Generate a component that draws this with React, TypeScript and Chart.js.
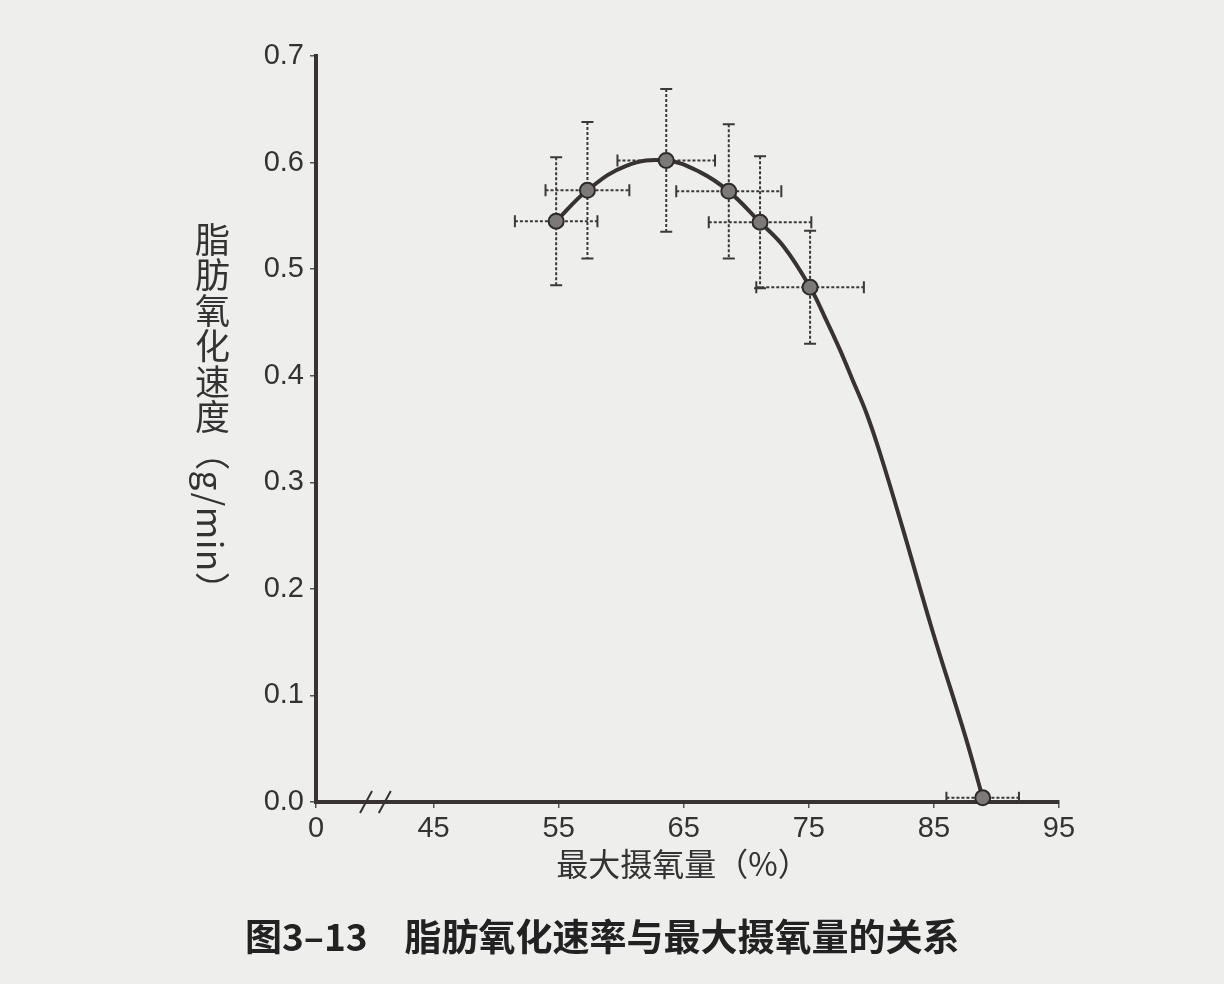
import React, { useEffect, useRef } from 'react';
import { Chart, registerables } from 'chart.js';

Chart.register(...registerables);

const vo2Mean = [54.8, 57.3, 63.6, 68.6, 71.1, 75.1, 88.9];
const vo2Err = [3.3, 3.35, 3.9, 4.2, 4.1, 4.3, 2.9];
const fatOxMean = [0.545, 0.574, 0.602, 0.573, 0.544, 0.483, 0.004];
const fatOxErr = [0.06, 0.064, 0.067, 0.063, 0.062, 0.053, 0];

// fitted curve
const curveX = [54.8, 57.3, 60.4, 63.6, 66.3, 68.6, 71.1, 73.0, 75.1, 76.4, 77.5, 78.5, 79.6, 80.7, 82.5, 84.9, 87.5, 88.9];
const curveY = [0.545, 0.574, 0.597, 0.602, 0.591, 0.573, 0.544, 0.521, 0.483, 0.452, 0.424, 0.396, 0.365, 0.327, 0.257, 0.16, 0.062, 0.004];

// broken x axis: the first tick stands for 0
const xAxisStart = 35.6;
const xTickValues = [xAxisStart, 45, 55, 65, 75, 85, 95];
const xTickLabels = ['0', '45', '55', '65', '75', '85', '95'];
const xBreakMarks = [39.6, 41.1];

const INK = '#383232';

const errorBars = {
  id: 'errorBars',
  beforeDatasetsDraw(chart: any) {
    const { ctx, scales } = chart;
    const { x, y } = scales;
    ctx.save();
    ctx.strokeStyle = '#3c3838';
    ctx.lineWidth = 2;
    vo2Mean.forEach((m, i) => {
      const px = x.getPixelForValue(m);
      const py = y.getPixelForValue(fatOxMean[i]);
      const xl = x.getPixelForValue(m - vo2Err[i]);
      const xr = x.getPixelForValue(m + vo2Err[i]);
      const yt = y.getPixelForValue(fatOxMean[i] + fatOxErr[i]);
      const yb = y.getPixelForValue(fatOxMean[i] - fatOxErr[i]);
      ctx.setLineDash([3, 2]);
      ctx.beginPath();
      ctx.moveTo(xl, py);
      ctx.lineTo(xr, py);
      if (fatOxErr[i] > 0) {
        ctx.moveTo(px, yt);
        ctx.lineTo(px, yb);
      }
      ctx.stroke();
      ctx.setLineDash([]);
      ctx.beginPath();
      ctx.moveTo(xl, py - 6);
      ctx.lineTo(xl, py + 6);
      ctx.moveTo(xr, py - 6);
      ctx.lineTo(xr, py + 6);
      if (fatOxErr[i] > 0) {
        ctx.moveTo(px - 6, yt);
        ctx.lineTo(px + 6, yt);
        ctx.moveTo(px - 6, yb);
        ctx.lineTo(px + 6, yb);
      }
      ctx.stroke();
    });
    ctx.restore();
  },
};

const axisBreak = {
  id: 'axisBreak',
  afterDraw(chart: any) {
    const { ctx, scales } = chart;
    const by = scales.y.getPixelForValue(0);
    ctx.save();
    ctx.strokeStyle = INK;
    ctx.lineWidth = 2;
    xBreakMarks.forEach((v) => {
      const bx = scales.x.getPixelForValue(v);
      ctx.beginPath();
      ctx.moveTo(bx - 6, by + 11);
      ctx.lineTo(bx + 6, by - 11);
      ctx.stroke();
    });
    ctx.restore();
  },
};

const FatOxChart = () => {
  const canvasRef = useRef<HTMLCanvasElement>(null);
  const chartRef = useRef<Chart | null>(null);

  useEffect(() => {
    document.body.style.margin = '0';
    document.body.style.overflow = 'hidden';
    if (!canvasRef.current) return;
    if (chartRef.current) chartRef.current.destroy();

    const tickFont = { family: "'Liberation Sans', Arial, sans-serif", size: 29 };

    chartRef.current = new Chart(canvasRef.current, {
      type: 'scatter',
      data: {
        datasets: [
          {
            data: vo2Mean.map((v, i) => ({ x: v, y: fatOxMean[i] })),
            pointRadius: 7.5,
            pointBackgroundColor: '#7d7979',
            pointBorderColor: '#2e2a2a',
            pointBorderWidth: 2,
            clip: false,
            order: 0,
          } as any,
          {
            data: curveX.map((v, i) => ({ x: v, y: curveY[i] })),
            showLine: true,
            borderColor: INK,
            borderWidth: 4,
            pointRadius: 0,
            tension: 0.4,
            clip: false,
            order: 1,
          } as any,
        ],
      },
      options: {
        responsive: false,
        animation: false,
        layout: { padding: { left: 0, top: 56, right: 165, bottom: 0 } },
        plugins: { legend: { display: false }, tooltip: { enabled: false } },
        scales: {
          x: {
            type: 'linear',
            min: xAxisStart,
            max: 95,
            afterFit: (scale: any) => {
              scale.height = 182;
            },
            afterBuildTicks: (scale: any) => {
              scale.ticks = xTickValues.map((v) => ({ value: v }));
            },
            ticks: {
              color: '#333',
              font: tickFont,
              padding: 4,
              autoSkip: false,
              maxRotation: 0,
              callback: (_v: any, i: number) => xTickLabels[i],
            },
            grid: { drawOnChartArea: false, tickLength: 6, color: '#555', lineWidth: 1.5 },
            border: { color: INK, width: 4 },
          },
          y: {
            min: 0,
            max: 0.7,
            afterFit: (scale: any) => {
              scale.width = 316;
            },
            ticks: {
              stepSize: 0.1,
              color: '#333',
              font: tickFont,
              padding: 6,
              callback: (v: any) => Number(v).toFixed(1),
            },
            grid: { drawOnChartArea: false, tickLength: 6, color: '#555', lineWidth: 1.5 },
            border: { color: INK, width: 4 },
          },
        },
      },
      plugins: [errorBars, axisBreak],
    });

    return () => {
      if (chartRef.current) {
        chartRef.current.destroy();
        chartRef.current = null;
      }
    };
  }, []);

  return (
    <div style={{ position: 'relative', width: 1224, height: 984, background: '#eeeeec', overflow: 'hidden' }}>
      <canvas ref={canvasRef} width={1224} height={984} style={{ position: 'absolute', left: 0, top: 0 }} />
      <div
        style={{
          position: 'absolute',
          left: 195,
          top: 222,
          writingMode: 'vertical-rl',
          textOrientation: 'mixed',
          fontFamily: "'Noto Sans CJK SC', sans-serif",
          fontSize: 35,
          letterSpacing: 0.5,
          lineHeight: 1,
          color: '#333',
        }}
      >
        脂肪氧化速度（g/min）
      </div>
      <div
        style={{
          position: 'absolute',
          left: 0,
          width: 1366,
          top: 841,
          textAlign: 'center',
          fontFamily: "'Noto Sans CJK SC', sans-serif",
          fontSize: 32,
          lineHeight: '42px',
          color: '#333',
        }}
      >
        最大摄氧量（%）
      </div>
      <div
        style={{
          position: 'absolute',
          left: 245,
          top: 910,
          fontFamily: "'Noto Sans CJK SC', sans-serif",
          fontWeight: 700,
          fontSize: 37,
          lineHeight: '50px',
          color: '#222',
          whiteSpace: 'pre',
        }}
      >
        图3–13　脂肪氧化速率与最大摄氧量的关系
      </div>
    </div>
  );
};

export default function App() {
  return <FatOxChart />;
}
